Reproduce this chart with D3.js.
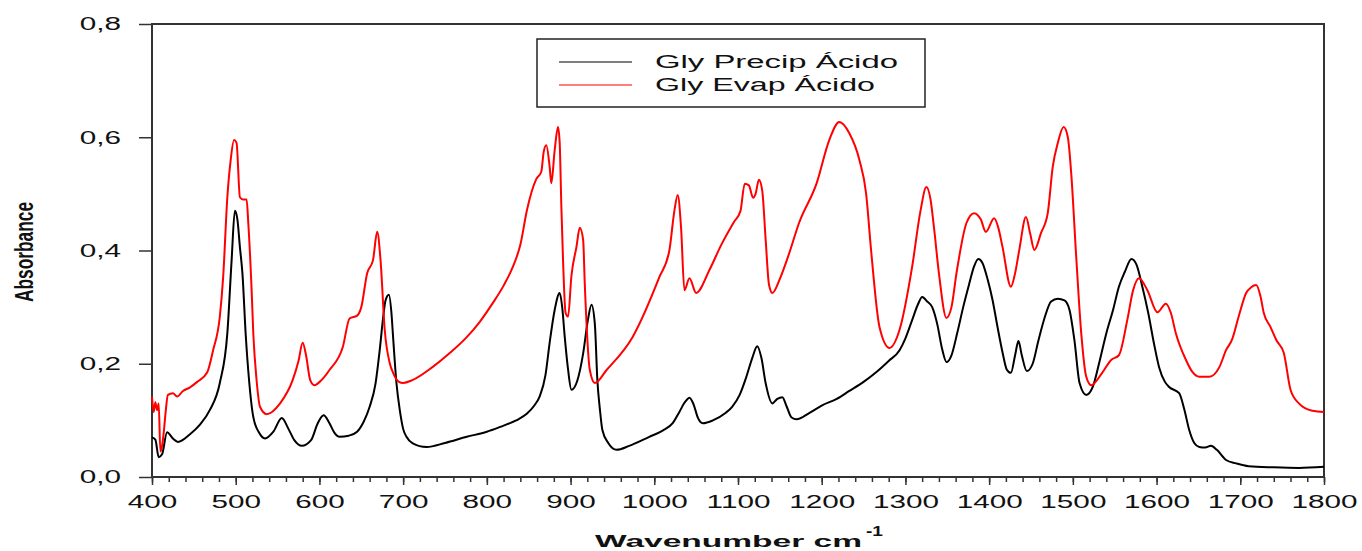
<!DOCTYPE html>
<html>
<head>
<meta charset="utf-8">
<script src="https://d3js.org/d3.v7.min.js"></script>
<style>
  body { margin: 0; background: #fff; }
  svg { display: block; font-family: "Liberation Sans", Arial, sans-serif; }
</style>
</head>
<body>
<svg id="chart" width="1362" height="551"></svg>
<script>
// Gly Precip Ácido
const precipX = [400,404,408,412,418,425,431,445,457,469,481,490,495,499,502,505,508,512,516,521,528,535,545,555,563,570,579,590,598,605,612,618,624,635,645,653,660,667,672,676,679,683,686,688,692,696,700,704,711,728,750,776,800,815,835,848,856,863,870,875,881,887,890,893,897,901,908,915,921,925,929,932,935,938,945,955,970,994,1010,1022,1030,1037,1042,1047,1052,1058,1070,1085,1093,1102,1110,1117,1123,1128,1133,1141,1147,1153,1158,1164,1170,1185,1201,1218,1233,1250,1265,1280,1293,1300,1308,1315,1320,1326,1332,1338,1344,1349,1355,1362,1369,1376,1382,1387,1392,1398,1404,1410,1416,1421,1426,1431,1435,1439,1445,1452,1459,1466,1474,1482,1490,1496,1502,1508,1516,1524,1532,1540,1548,1555,1562,1570,1576,1583,1590,1597,1603,1610,1615,1627,1633,1639,1645,1651,1658,1665,1672,1683,1695,1710,1740,1770,1800];
const precipY = [0.070,0.066,0.035,0.040,0.079,0.068,0.062,0.075,0.092,0.118,0.166,0.254,0.380,0.470,0.455,0.406,0.360,0.250,0.170,0.106,0.078,0.068,0.080,0.104,0.085,0.065,0.055,0.065,0.095,0.109,0.095,0.078,0.071,0.073,0.080,0.098,0.124,0.165,0.224,0.280,0.312,0.322,0.290,0.247,0.166,0.118,0.085,0.071,0.060,0.053,0.060,0.071,0.080,0.088,0.100,0.112,0.125,0.142,0.180,0.237,0.295,0.325,0.300,0.248,0.190,0.154,0.170,0.218,0.280,0.304,0.270,0.171,0.120,0.083,0.060,0.048,0.055,0.071,0.082,0.095,0.115,0.133,0.140,0.128,0.105,0.095,0.100,0.113,0.124,0.145,0.177,0.210,0.231,0.210,0.166,0.130,0.138,0.141,0.125,0.105,0.102,0.113,0.127,0.138,0.152,0.168,0.185,0.205,0.224,0.245,0.277,0.305,0.318,0.310,0.300,0.270,0.225,0.203,0.215,0.255,0.300,0.340,0.372,0.385,0.378,0.350,0.313,0.265,0.220,0.190,0.184,0.215,0.240,0.215,0.187,0.200,0.242,0.280,0.310,0.315,0.312,0.295,0.240,0.166,0.145,0.160,0.205,0.254,0.295,0.336,0.362,0.385,0.375,0.336,0.290,0.235,0.194,0.168,0.159,0.148,0.120,0.083,0.060,0.053,0.052,0.055,0.048,0.030,0.024,0.019,0.017,0.016,0.018];

// Gly Evap Ácido
const evapX = [400,402,404,406,408,410,412,414,416,419,425,430,437,445,454,466,473,481,485,490,494,498,501,505,509,513,515,519,521,525,529,537,553,568,575,580,584,589,594,603,612,628,636,645,650,657,664,669,673,678,684,688,695,700,711,735,755,776,792,807,820,831,840,848,859,865,868,871,875,877,881,885,887,889,891,894,897,901,907,911,915,917,923,929,943,974,1006,1018,1024,1028,1032,1036,1042,1050,1066,1080,1095,1103,1108,1113,1118,1121,1125,1129,1133,1137,1141,1150,1160,1173,1194,1209,1221,1233,1245,1253,1259,1269,1281,1293,1308,1318,1325,1330,1334,1340,1349,1355,1361,1373,1382,1390,1396,1406,1411,1416,1426,1431,1436,1444,1449,1454,1462,1470,1476,1482,1489,1494,1498,1504,1510,1516,1522,1535,1546,1555,1565,1572,1579,1589,1601,1611,1617,1623,1635,1643,1651,1663,1675,1683,1690,1698,1707,1713,1719,1724,1728,1736,1743,1752,1760,1770,1786,1800];
const evapY = [0.142,0.115,0.132,0.118,0.130,0.045,0.055,0.078,0.110,0.145,0.148,0.142,0.152,0.158,0.168,0.185,0.224,0.283,0.353,0.494,0.560,0.595,0.590,0.494,0.490,0.490,0.449,0.330,0.254,0.170,0.124,0.111,0.130,0.171,0.205,0.237,0.215,0.171,0.162,0.172,0.189,0.230,0.280,0.285,0.300,0.360,0.383,0.433,0.383,0.260,0.201,0.184,0.168,0.166,0.171,0.194,0.218,0.247,0.275,0.307,0.338,0.371,0.410,0.472,0.526,0.539,0.575,0.586,0.548,0.519,0.577,0.618,0.590,0.477,0.383,0.290,0.283,0.355,0.406,0.440,0.419,0.340,0.189,0.166,0.189,0.247,0.353,0.400,0.470,0.498,0.440,0.330,0.351,0.325,0.366,0.410,0.450,0.470,0.518,0.515,0.493,0.500,0.525,0.505,0.420,0.340,0.325,0.350,0.390,0.449,0.519,0.595,0.627,0.607,0.560,0.501,0.400,0.265,0.228,0.260,0.371,0.470,0.512,0.490,0.442,0.360,0.281,0.300,0.360,0.449,0.466,0.455,0.433,0.457,0.440,0.406,0.336,0.360,0.401,0.459,0.430,0.401,0.431,0.466,0.548,0.590,0.618,0.600,0.537,0.389,0.254,0.177,0.162,0.184,0.207,0.215,0.277,0.330,0.351,0.330,0.291,0.306,0.290,0.254,0.207,0.185,0.177,0.177,0.194,0.224,0.242,0.283,0.325,0.335,0.339,0.320,0.290,0.265,0.242,0.219,0.154,0.130,0.117,0.115];

const xTicks = [400,500,600,700,800,900,1000,1100,1200,1300,1400,1500,1600,1700,1800];
const yTicks = [0, 0.2, 0.4, 0.6, 0.8];
const seriesNames = ["Gly Precip Ácido", "Gly Evap Ácido"];
const seriesColors = ["#000000", "#ff0000"];

const margin = {top: 24, right: 38, bottom: 74, left: 152},
    width = 1362 - margin.left - margin.right,
    height = 551 - margin.top - margin.bottom;

const svg = d3.select("#chart");
const g = svg.append("g")
    .attr("transform", `translate(${margin.left},${margin.top})`);

const x = d3.scaleLinear().domain([400, 1800]).range([0, width]);
const y = d3.scaleLinear().domain([0, 0.8]).range([height, 0]);

const stretch = 1.65;
const axisColor = "#333";

// frame
g.append("rect")
    .attr("width", width)
    .attr("height", height)
    .attr("fill", "none")
    .attr("stroke", axisColor)
    .attr("stroke-width", 2);

// minor x ticks
g.append("g")
    .attr("transform", `translate(0,${height})`)
    .call(d3.axisBottom(x).tickValues(d3.range(400, 1801, 20)).tickSize(5).tickFormat(""))
    .call(a => a.select(".domain").remove())
    .call(a => a.selectAll("line").attr("stroke", axisColor).attr("stroke-width", 1.5));

// x axis
g.append("g")
    .attr("transform", `translate(0,${height})`)
    .call(d3.axisBottom(x).tickValues(xTicks).tickSize(8).tickFormat(d3.format("d")))
    .call(a => a.select(".domain").remove())
    .call(a => a.selectAll("line").attr("stroke", axisColor).attr("stroke-width", 1.5))
    .call(a => a.selectAll("text")
        .attr("fill", "#111")
        .attr("font-size", 18)
        .attr("dy", "0.71em")
        .attr("y", 18)
        .attr("transform", `scale(${stretch},1)`));

// y axis
g.append("g")
    .call(d3.axisLeft(y).tickValues(yTicks).tickSize(13).tickFormat(d => d3.format(".1f")(d).replace(".", ",")))
    .call(a => a.select(".domain").remove())
    .call(a => a.selectAll("line").attr("stroke", axisColor).attr("stroke-width", 1.5))
    .call(a => a.selectAll("text")
        .attr("fill", "#111")
        .attr("font-size", 18)
        .attr("x", -31 / stretch)
        .attr("transform", `scale(${stretch},1)`));

// lines
const line = d3.line()
    .curve(d3.curveMonotoneX)
    .x(d => x(d[0]))
    .y(d => y(d[1]));

const series = [
  d3.zip(precipX, precipY),
  d3.zip(evapX, evapY)
];

g.selectAll(".series")
  .data(series)
  .join("path")
    .attr("class", "series")
    .attr("fill", "none")
    .attr("stroke", (d, i) => seriesColors[i])
    .attr("stroke-width", 2)
    .attr("stroke-linejoin", "round")
    .attr("d", line);

// legend
const legend = svg.append("g").attr("transform", "translate(537,39)");
legend.append("rect")
    .attr("width", 388)
    .attr("height", 68)
    .attr("fill", "#fff")
    .attr("stroke", "#222")
    .attr("stroke-width", 1.5);
seriesNames.forEach((name, i) => {
  legend.append("line")
      .attr("x1", 22).attr("x2", 95)
      .attr("y1", 23 + i * 23).attr("y2", 23 + i * 23)
      .attr("stroke", seriesColors[i])
      .attr("stroke-width", 1.2);
  legend.append("text")
      .attr("x", 118)
      .attr("y", 29 + i * 23)
      .attr("font-size", 18)
      .attr("fill", "#111")
      .attr("textLength", i === 0 ? 243 : 220)
      .attr("lengthAdjust", "spacingAndGlyphs")
      .text(name);
});

// axis titles
svg.append("text")
    .attr("x", 595)
    .attr("y", 547)
    .attr("font-size", 17)
    .attr("font-weight", "bold")
    .attr("fill", "#111")
    .attr("textLength", 267)
    .attr("lengthAdjust", "spacingAndGlyphs")
    .text("Wavenumber cm");
svg.append("text")
    .attr("x", 866)
    .attr("y", 536)
    .attr("font-size", 15)
    .attr("font-weight", "bold")
    .attr("fill", "#111")
    .attr("textLength", 17)
    .attr("lengthAdjust", "spacingAndGlyphs")
    .text("-1");

svg.append("text")
    .attr("transform", "translate(33,252) rotate(-90)")
    .attr("text-anchor", "middle")
    .attr("font-size", 25)
    .attr("font-weight", "bold")
    .attr("fill", "#111")
    .attr("textLength", 100)
    .attr("lengthAdjust", "spacingAndGlyphs")
    .text("Absorbance");
</script>
</body>
</html>
